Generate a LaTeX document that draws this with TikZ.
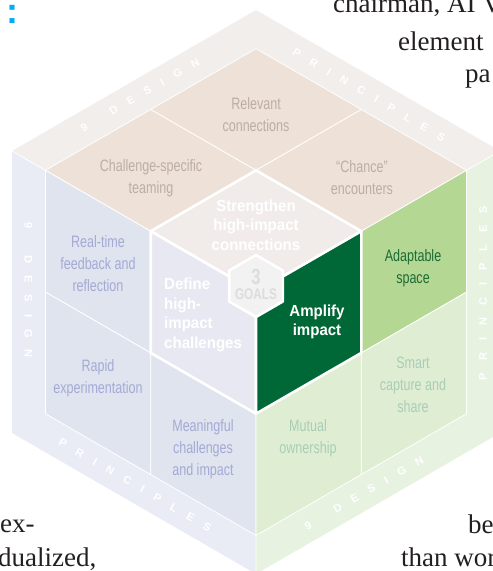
\documentclass[tikz,border=0pt]{standalone}
\usepackage{fontspec}
\setmainfont{Liberation Serif}
\newfontfamily\cellfont[FakeStretch=0.76]{Liberation Sans}
\newfontfamily\goalfont[FakeStretch=0.94]{Liberation Sans}
\newfontfamily\bandfont{Liberation Sans}

\definecolor{topband}{HTML}{F2EEEB}
\definecolor{topcell}{HTML}{EDE1D8}
\definecolor{topgoal}{HTML}{F1ECE9}
\definecolor{topink}{HTML}{BCAEA2}
\definecolor{leftband}{HTML}{E9ECF5}
\definecolor{leftcell}{HTML}{DFE4EF}
\definecolor{leftgoal}{HTML}{E8E8F3}
\definecolor{leftink}{HTML}{A5AAD5}
\definecolor{rightband}{HTML}{E8F2E0}
\definecolor{rightcell}{HTML}{DFEED3}
\definecolor{adaptcell}{HTML}{B4D794}
\definecolor{adaptink}{HTML}{1D6B35}
\definecolor{rightgoal}{HTML}{006837}
\definecolor{rightink}{HTML}{A9CDB6}
\definecolor{hexfill}{HTML}{F2F2F2}
\definecolor{hexink}{HTML}{DCDCDC}
\definecolor{headcyan}{HTML}{00AEEF}
\definecolor{bodyink}{HTML}{231F20}

\makeatletter
\newcommand\tracked[1]{\@tfor\tr@c:=#1\do{\tr@c\hspace{12pt}}\unskip}
\makeatother

\tikzset{
  cell/.style={draw=white, line width=0.8pt},
  goalcell/.style={draw=white, line width=2.6pt, line join=round},
  celltext/.style={align=center, inner sep=0pt, font=\cellfont\fontsize{16.5}{22}\selectfont},
  goaltext/.style={inner sep=0pt, text=white, font=\goalfont\bfseries\fontsize{16}{19.5}\selectfont},
  bandtext/.style={inner sep=0pt, text=white, font=\bandfont\bfseries\fontsize{11}{11}\selectfont},
  bodytext/.style={anchor=base west, inner sep=0pt, text=bodyink, font=\fontsize{27}{35}\selectfont}
}

\begin{document}
\begin{tikzpicture}[x=1pt,y=-1pt]
  \useasboundingbox (0,0) rectangle (493,571);
  \clip (0,0) rectangle (493,571);

  % Cube corners
  \coordinate (T) at (256,10);
  \coordinate (L) at (12,151);
  \coordinate (C) at (256,292);
  \coordinate (R) at (500,151);
  \coordinate (LB) at (12,433);
  \coordinate (RB) at (500,433);
  \coordinate (B) at (256,574);

  % Grid points
  \coordinate (t1) at (256,48.6);   \coordinate (t2) at (150.7,109.5); \coordinate (t3) at (45.4,170.3);
  \coordinate (t4) at (361.3,109.5); \coordinate (t5) at (256,170.3);  \coordinate (t6) at (150.7,231.2);
  \coordinate (t7) at (466.6,170.3); \coordinate (t8) at (361.3,231.2);
  \coordinate (l4) at (45.4,292);    \coordinate (l5) at (150.7,352.9); \coordinate (l6) at (256,413.7);
  \coordinate (l7) at (45.4,413.7);  \coordinate (l8) at (150.7,474.6); \coordinate (l9) at (256,535.4);
  \coordinate (r5) at (361.3,352.9); \coordinate (r6) at (466.6,292);
  \coordinate (r8) at (361.3,474.6); \coordinate (r9) at (466.6,413.7);

  % Faces (outer bands)
  \fill[topband] (T) -- (L) -- (C) -- (R) -- cycle;
  \fill[leftband] (L) -- (C) -- (B) -- (LB) -- cycle;
  \fill[rightband] (C) -- (R) -- (RB) -- (B) -- cycle;
  \draw[white, line width=0.8pt] (L) -- (C) -- (R) (C) -- (B);

  % Design principle cells
  \filldraw[cell, fill=topcell] (t1) -- (t2) -- (t5) -- (t4) -- cycle;
  \filldraw[cell, fill=topcell] (t2) -- (t3) -- (t6) -- (t5) -- cycle;
  \filldraw[cell, fill=topcell] (t4) -- (t5) -- (t8) -- (t7) -- cycle;
  \filldraw[cell, fill=leftcell] (t3) -- (t6) -- (l5) -- (l4) -- cycle;
  \filldraw[cell, fill=leftcell] (l4) -- (l5) -- (l8) -- (l7) -- cycle;
  \filldraw[cell, fill=leftcell] (l5) -- (l6) -- (l9) -- (l8) -- cycle;
  \filldraw[cell, fill=adaptcell] (t8) -- (t7) -- (r6) -- (r5) -- cycle;
  \filldraw[cell, fill=rightcell] (r5) -- (r6) -- (r9) -- (r8) -- cycle;
  \filldraw[cell, fill=rightcell] (l6) -- (r5) -- (r8) -- (l9) -- cycle;

  % Goal cells
  \filldraw[goalcell, fill=topgoal] (t5) -- (t6) -- (C) -- (t8) -- cycle;
  \filldraw[goalcell, fill=leftgoal] (t6) -- (C) -- (l6) -- (l5) -- cycle;
  \filldraw[goalcell, fill=rightgoal] (C) -- (t8) -- (r5) -- (l6) -- cycle;
  \filldraw[goalcell, fill=hexfill] (256,255) -- (282.8,270.5) -- (282.8,301.5)
    -- (256,317) -- (229.2,301.5) -- (229.2,270.5) -- cycle;

  % Cell labels
  \node[celltext, text=topink] (relevant) at (256,115) {Relevant\\connections};
  \node[celltext, text=topink] (teaming) at (151,178) {Challenge-specific\\teaming};
  \node[celltext, text=topink] (chance) at (362,178) {“Chance”\\encounters};
  \node[celltext, text=leftink] (realtime) at (98,264) {Real-time\\feedback and\\reflection};
  \node[celltext, text=leftink] (rapid) at (98,378) {Rapid\\experimentation};
  \node[celltext, text=leftink] (meaningful) at (203,449) {Meaningful\\challenges\\and impact};
  \node[celltext, text=adaptink] (adaptable) at (413,268) {Adaptable\\space};
  \node[celltext, text=rightink] (smart) at (413,385) {Smart\\capture and\\share};
  \node[celltext, text=rightink] (mutual) at (308,438) {Mutual\\ownership};

  % Goal labels
  \node[goaltext, align=center] (strengthen) at (256,225) {Strengthen\\high-impact\\connections};
  \node[goaltext, align=left, anchor=west] (define) at (164,315) {Define\\high-\\impact\\challenges};
  \node[goaltext, align=center] (amplify) at (317,322) {Amplify\\impact};
  \node[inner sep=0pt, text=hexink, font=\cellfont\bfseries\fontsize{22}{22}\selectfont] (three) at (256,277) {3};
  \node[inner sep=0pt, text=hexink, font=\cellfont\bfseries\fontsize{15.5}{15.5}\selectfont] (goals) at (256,294) {GOALS};

  % Band labels
  \node[bandtext, rotate=30] (designtop) at (140,95) {\tracked{9~DESIGN}};
  \node[bandtext, rotate=-30] (principlestop) at (369,95) {\tracked{PRINCIPLES}};
  \node[bandtext, rotate=-90] (designleft) at (28.5,290) {\tracked{9~DESIGN}};
  \node[bandtext, rotate=-30] (principlesleft) at (135,485) {\tracked{PRINCIPLES}};
  \node[bandtext, rotate=90] (principlesright) at (483,293) {\tracked{PRINCIPLES}};
  \node[bandtext, rotate=30] (designright) at (364,493) {\tracked{9~DESIGN}};

  % Surrounding page text
  \node[anchor=base, inner sep=0pt, text=headcyan, font=\bandfont\bfseries\fontsize{36}{36}\selectfont] (colon) at (12,23) {:};
  \node[bodytext] (line1) at (333,12) {chairman, AI V};
  \node[bodytext] (line2) at (398,50) {element};
  \node[bodytext] (line3) at (465,82) {pa};
  \node[bodytext] (line4) at (0,532) {ex-};
  \node[bodytext] (line5) at (-2,566) {dualized,};
  \node[bodytext] (line6) at (468,533) {be};
  \node[bodytext] (line7) at (401,566) {than wor};
\end{tikzpicture}
\end{document}
